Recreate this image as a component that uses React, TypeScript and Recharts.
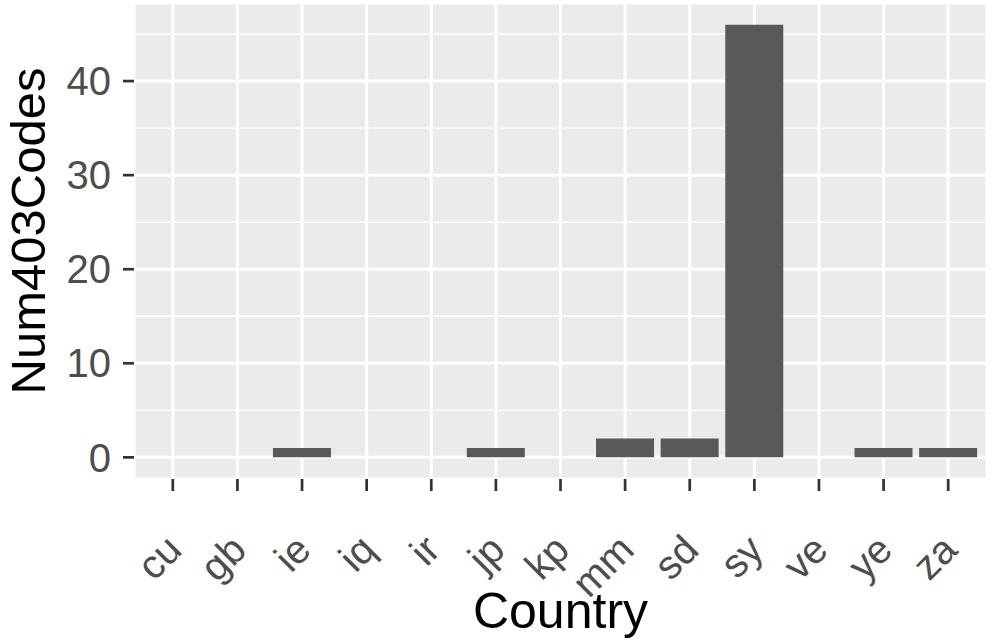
import { Bar, BarChart, CartesianGrid, XAxis, YAxis } from 'recharts'

// Num403Codes per country, ggplot2-ish look (grey panel, white grid)

const countries = ['cu', 'gb', 'ie', 'iq', 'ir', 'jp', 'kp', 'mm', 'sd', 'sy', 've', 'ye', 'za']
const num403 = [0, 0, 1, 0, 0, 1, 0, 2, 2, 46, 0, 1, 1]
const yTicks = [0, 10, 20, 30, 40]
const yMinor = [5, 15, 25, 35, 45]
const yDomain = [-2.3, 48.3]

const data = countries.map((c, i) => ({ country: c, value: num403[i] }))

const FONT = '"Liberation Sans", Arial, Helvetica, sans-serif'

function XTick(props: any) {
  const { x, y, payload } = props
  const ax = x + 11
  const ay = y + 61
  return (
    <text
      x={ax}
      y={ay}
      transform={`rotate(-45, ${ax}, ${ay})`}
      textAnchor="end"
      fill="#4D4D4D"
      fontSize={40}
      fontFamily={FONT}
    >
      {payload.value}
    </text>
  )
}

function YTitle(props: any) {
  const vb = props.viewBox || {}
  const cx = 45
  const cy = (vb.y ?? 0) + (vb.height ?? 0) / 2 - 10
  return (
    <text
      x={cx}
      y={cy}
      transform={`rotate(-90, ${cx}, ${cy})`}
      textAnchor="middle"
      fill="#000"
      fontSize={49}
      fontFamily={FONT}
    >
      Num403Codes
    </text>
  )
}

function XTitle(props: any) {
  const vb = props.viewBox || {}
  const cx = (vb.x ?? 0) + (vb.width ?? 0) / 2
  return (
    <text x={cx} y={628} textAnchor="middle" fill="#000" fontSize={50} fontFamily={FONT}>
      Country
    </text>
  )
}

export default function App() {
  return (
    <div style={{ width: 992, height: 643, background: '#fff' }}>
      <style>{`body{margin:0}`}</style>
      <BarChart
        width={992}
        height={643}
        data={data}
        margin={{ top: 3, right: 5, left: 0, bottom: 0 }}
        barCategoryGap="5%"
      >
        <CartesianGrid fill="#EBEBEB" stroke="#FFFFFF" strokeWidth={3} />
        <CartesianGrid
          fill="none"
          stroke="#FFFFFF"
          strokeWidth={1.4}
          vertical={false}
          horizontalValues={yMinor}
        />
        <XAxis
          dataKey="country"
          height={164}
          padding={{ left: 6.5, right: 6.5 }}
          axisLine={false}
          tickLine={{ stroke: '#333333', strokeWidth: 2.7 }}
          tickSize={12}
          tickMargin={0}
          interval={0}
          tick={<XTick />}
          label={{ content: <XTitle /> }}
        />
        <YAxis
          type="number"
          domain={yDomain}
          ticks={yTicks}
          allowDataOverflow
          width={134}
          axisLine={false}
          tickLine={{ stroke: '#333333', strokeWidth: 2.7 }}
          tickSize={11}
          tickMargin={12}
          tick={{ fill: '#4D4D4D', fontSize: 40, fontFamily: FONT }}
          label={{ content: <YTitle /> }}
        />
        <Bar dataKey="value" fill="#595959" isAnimationActive={false} />
      </BarChart>
    </div>
  )
}
